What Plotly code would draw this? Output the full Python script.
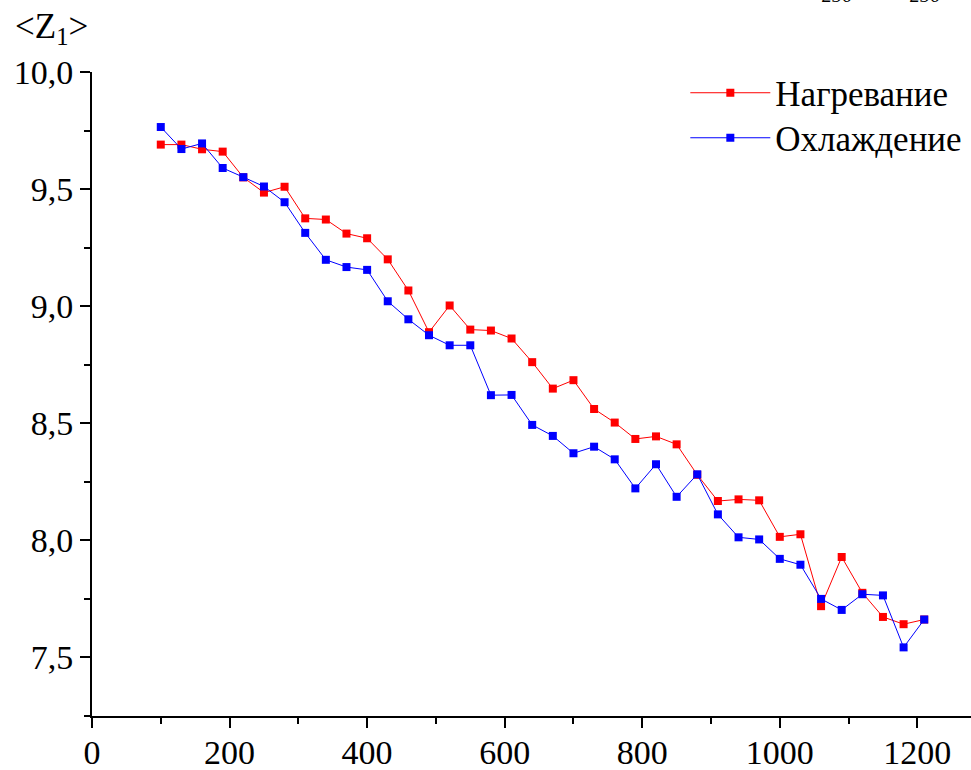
import plotly.graph_objects as go

# Data
x_vals = [100, 130, 160, 190, 220, 250, 280, 310, 340, 370, 400, 430, 460, 490,
          520, 550, 580, 610, 640, 670, 700, 730, 760, 790, 820, 850, 880, 910,
          940, 970, 1000, 1030, 1060, 1090, 1120, 1150, 1180, 1210]

heating = [9.69, 9.69, 9.67, 9.66, 9.55, 9.485, 9.51, 9.375, 9.37, 9.31, 9.29, 9.20,
           9.067, 8.889, 9.003, 8.90, 8.896, 8.862, 8.761, 8.648, 8.684, 8.561,
           8.503, 8.433, 8.444, 8.410, 8.280, 8.168, 8.175, 8.171, 8.015, 8.026,
           7.719, 7.929, 7.776, 7.673, 7.642, 7.662]

cooling = [9.765, 9.671, 9.695, 9.590, 9.551, 9.511, 9.444, 9.313, 9.198, 9.167,
           9.155, 9.021, 8.944, 8.876, 8.833, 8.833, 8.620, 8.621, 8.493, 8.446,
           8.372, 8.400, 8.346, 8.222, 8.325, 8.186, 8.282, 8.111, 8.013, 8.004,
           7.921, 7.896, 7.750, 7.703, 7.770, 7.765, 7.543, 7.662]

series_names = ["Нагревание", "Охлаждение"]
y_tickvals = [7.5, 8.0, 8.5, 9.0, 9.5, 10.0]
y_ticktext = ["7,5", "8,0", "8,5", "9,0", "9,5", "10,0"]
x_tickvals = [0, 200, 400, 600, 800, 1000, 1200]
x_ticktext = ["0", "200", "400", "600", "800", "1000", "1200"]

FONT = "Liberation Serif"

fig = go.Figure()
fig.add_trace(go.Scatter(
    x=x_vals, y=heating, name=series_names[0], mode="lines+markers",
    line=dict(color="#ff0000", width=1),
    marker=dict(symbol="square", size=8, color="#ff0000"),
    legend="legend",
))
fig.add_trace(go.Scatter(
    x=x_vals, y=cooling, name=series_names[1], mode="lines+markers",
    line=dict(color="#0000ff", width=1),
    marker=dict(symbol="square", size=8, color="#0000ff"),
    legend="legend2",
))

axis_common = dict(
    showgrid=False, zeroline=False, showline=True, linecolor="black", linewidth=2,
    ticks="outside", ticklen=10, tickwidth=2, tickcolor="black", automargin=False,
)

fig.update_xaxes(
    range=[0, 1278], tickvals=x_tickvals, ticktext=x_ticktext,
    tickfont=dict(family=FONT, size=34, color="black"), ticklabelstandoff=-5,
    minor=dict(ticks="outside", ticklen=6, tickwidth=2, tickcolor="black", dtick=100, tick0=0),
    **axis_common,
)
fig.update_yaxes(
    range=[7.25, 10.0], tickvals=y_tickvals, ticktext=y_ticktext,
    tickfont=dict(family=FONT, size=34, color="black"),
    minor=dict(ticks="outside", ticklen=6, tickwidth=2, tickcolor="black", dtick=0.25, tick0=7.25),
    **axis_common,
)

fig.add_annotation(
    text="&lt;Z<sub>1</sub>&gt;", xref="paper", yref="paper", x=0, y=1,
    xanchor="left", yanchor="bottom", xshift=-79, yshift=20, showarrow=False,
    font=dict(family=FONT, size=35, color="black"),
)
for xp in [0.848, 0.948]:
    fig.add_annotation(
        text="<i>256</i>", xref="paper", yref="paper", x=xp, y=1,
        xanchor="center", yanchor="bottom", yshift=64, showarrow=False,
        font=dict(family=FONT, size=20, color="black"),
    )

legend_common = dict(
    x=0.675, xanchor="left", yanchor="middle",
    font=dict(family=FONT, size=35, color="black"),
    itemwidth=80, bgcolor="rgba(0,0,0,0)",
)

fig.update_layout(
    width=971, height=770,
    margin=dict(l=92, r=0, t=72, b=54, autoexpand=False),
    paper_bgcolor="white", plot_bgcolor="white",
    font=dict(family=FONT, color="black"),
    showlegend=True,
    legend=dict(y=0.9674, **legend_common),
    legend2=dict(y=0.8975, **legend_common),
)

fig.write_html("out.html")
